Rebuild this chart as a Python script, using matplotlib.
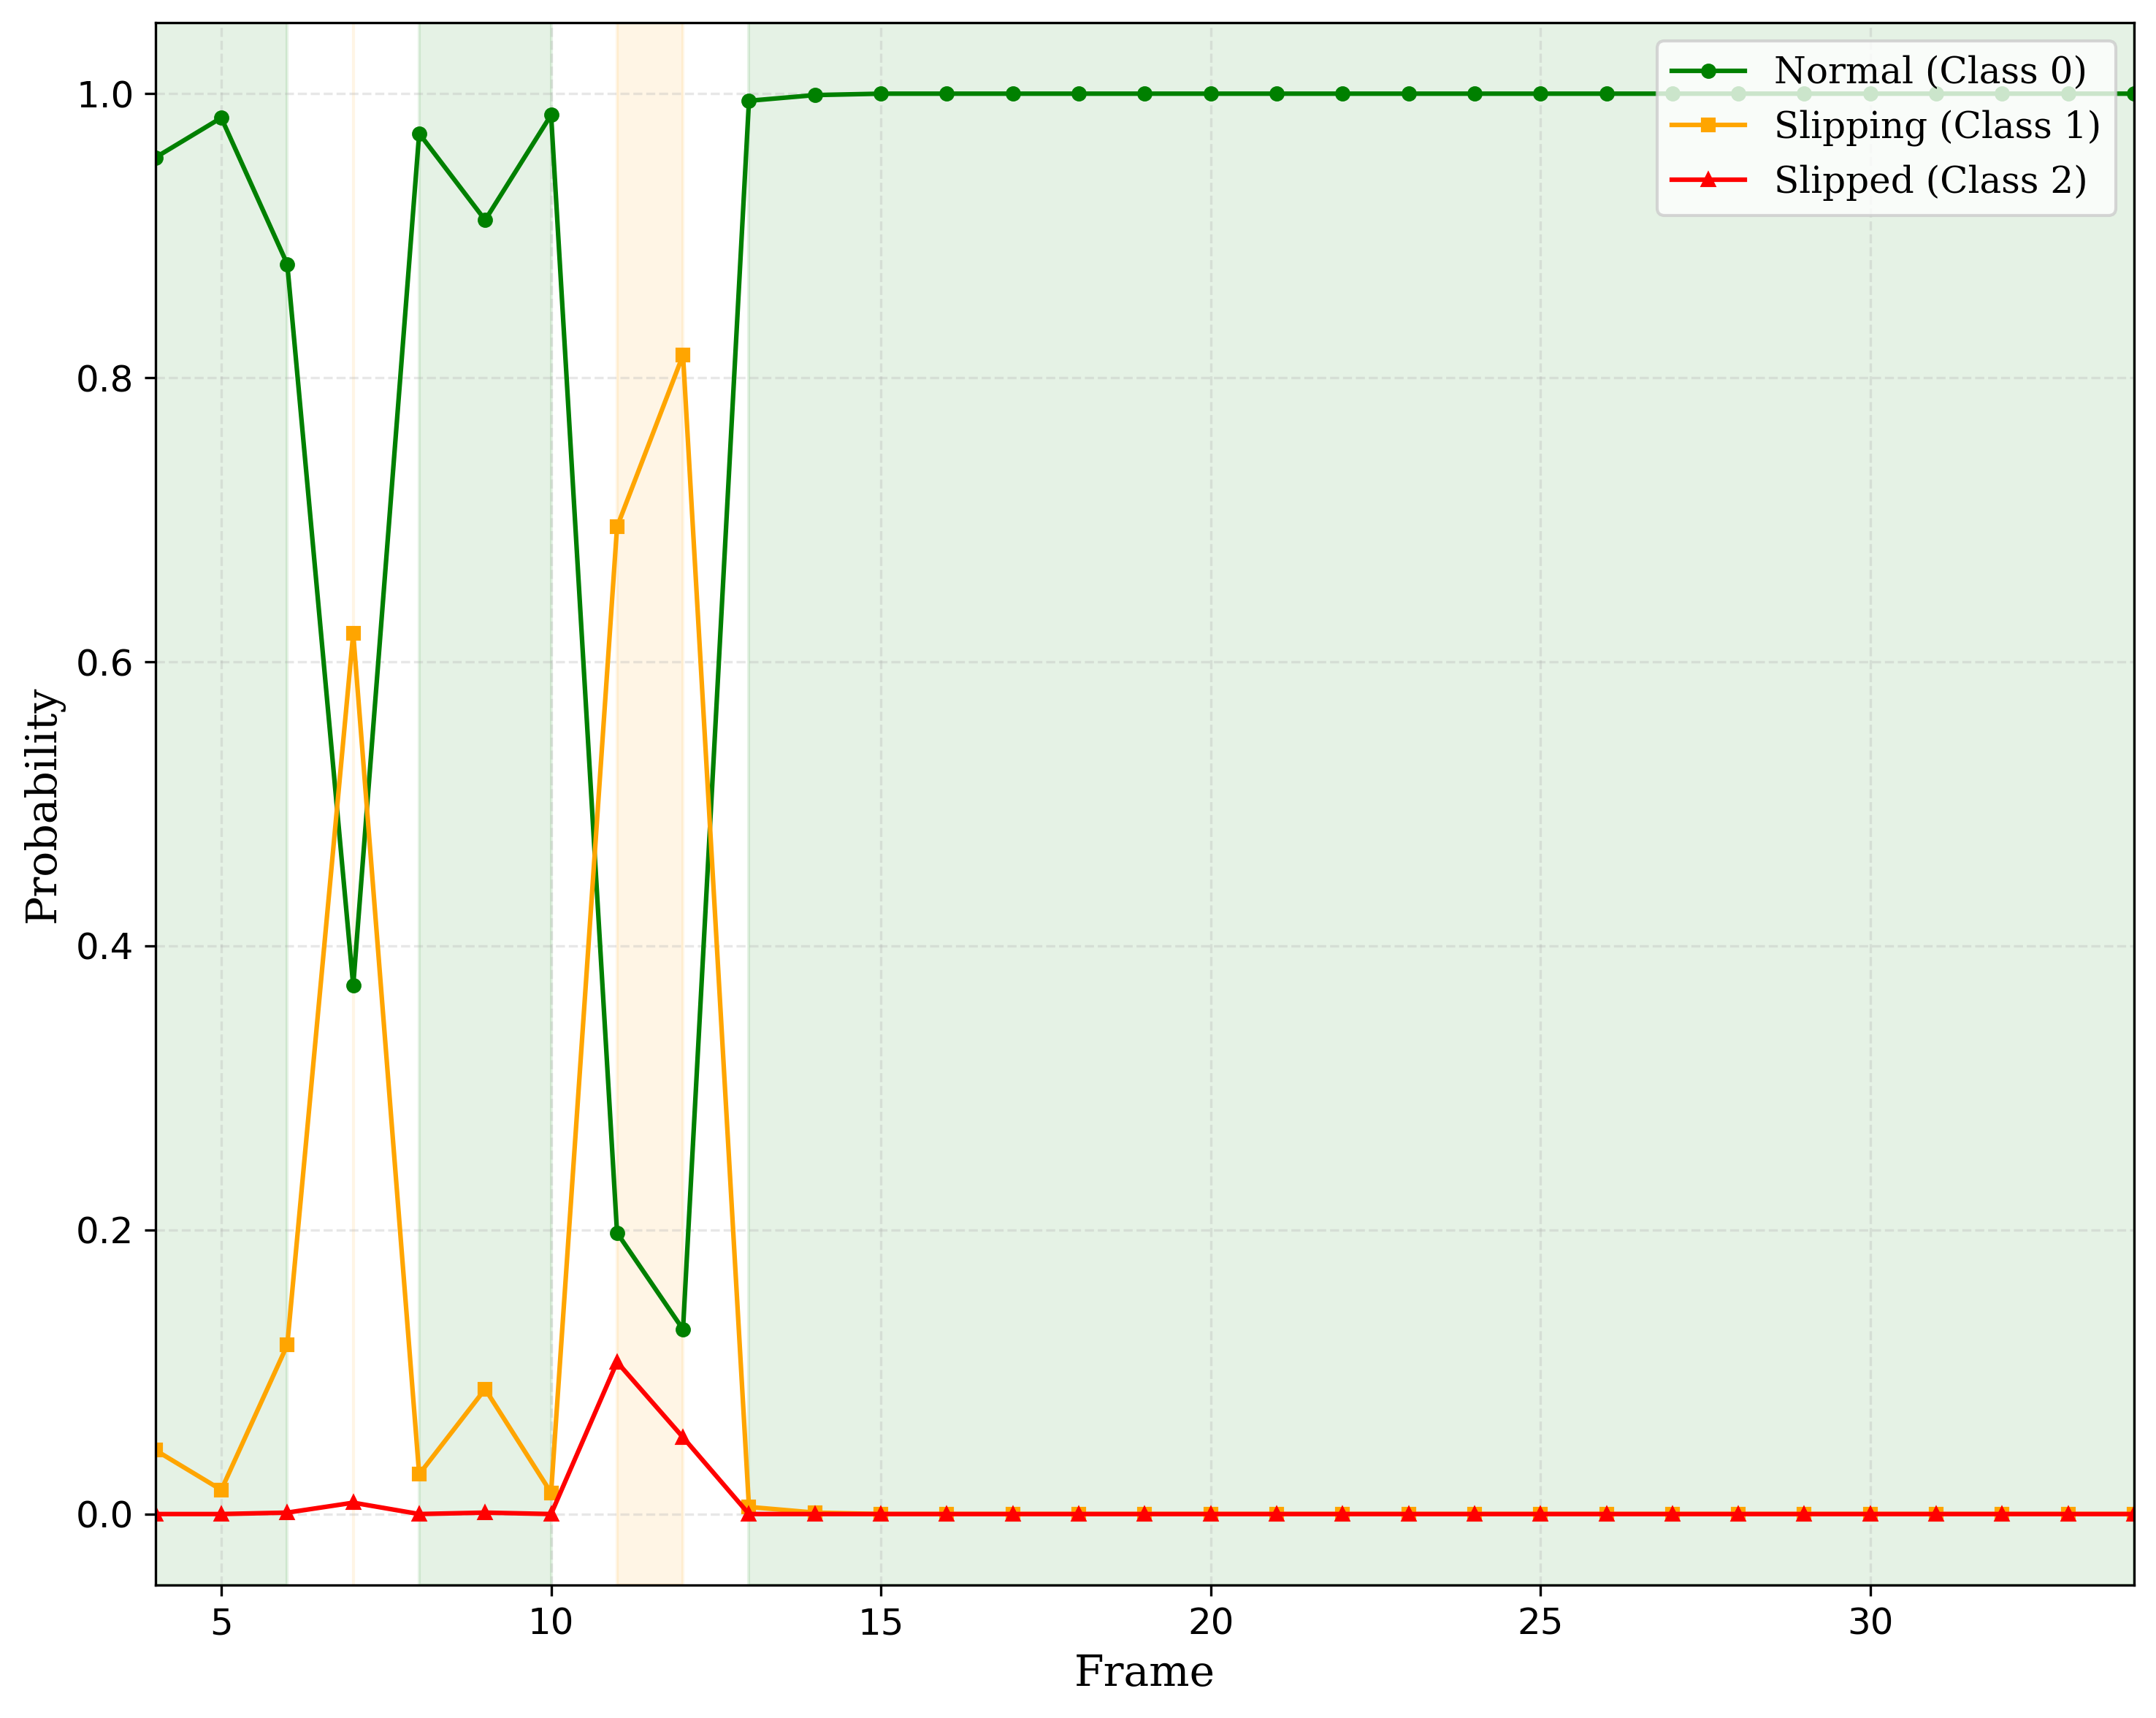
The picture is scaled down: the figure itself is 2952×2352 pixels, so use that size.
import matplotlib
matplotlib.use("Agg")
import matplotlib.pyplot as plt
import numpy as np

frames = list(range(4, 35))
normal = [0.955, 0.983, 0.880, 0.372, 0.972, 0.911, 0.985, 0.198, 0.130, 0.995, 0.999] + [1.0] * 20
slipping = [0.045, 0.017, 0.119, 0.620, 0.028, 0.088, 0.015, 0.695, 0.816, 0.005, 0.001] + [0.0] * 20
slipped = [0.000, 0.000, 0.001, 0.008, 0.000, 0.001, 0.000, 0.107, 0.054, 0.000, 0.000] + [0.0] * 20

series_labels = ["Normal (Class 0)", "Slipping (Class 1)", "Slipped (Class 2)"]
series_colors = ["green", "orange", "red"]
series_markers = ["o", "s", "^"]

fig = plt.figure(figsize=(9.84, 7.84), dpi=300)
ax = fig.add_axes([212.7 / 2952, 1 - 2170 / 2352, (2922 - 212.7) / 2952, (2170 - 31) / 2352])

# shaded segments by predicted class
data = np.array([normal, slipping, slipped])
pred = data.argmax(axis=0)
span_colors = {0: "green", 1: "orange", 2: "red"}
start = 0
for i in range(1, len(frames) + 1):
    if i == len(frames) or pred[i] != pred[start]:
        ax.axvspan(frames[start], frames[i - 1], color=span_colors[pred[start]], alpha=0.1)
        start = i

for vals, lab, col, mk in zip([normal, slipping, slipped], series_labels, series_colors, series_markers):
    ax.plot(frames, vals, color=col, marker=mk, markersize=4, linewidth=1.5, label=lab)

ax.set_xlim(4, 34)
ax.set_ylim(-0.05, 1.05)
ax.set_xticks([5, 10, 15, 20, 25, 30])
ax.set_yticks([0.0, 0.2, 0.4, 0.6, 0.8, 1.0])
ax.tick_params(labelsize=12)
ax.grid(True, linestyle="--", alpha=0.3)
ax.set_xlabel("Frame", fontsize=14, family="serif")
ax.set_ylabel("Probability", fontsize=14, family="serif")
ax.legend(loc="upper right", prop={"family": "serif", "size": 12})

fig.savefig("out.png", dpi=300)
